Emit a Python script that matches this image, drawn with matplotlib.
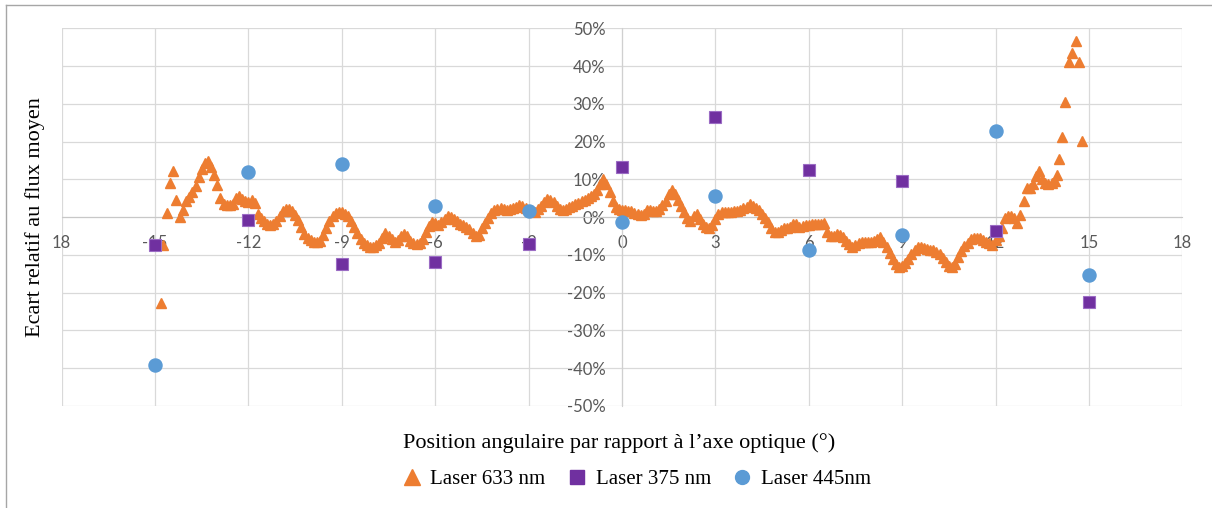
import numpy as np
import matplotlib.pyplot as plt
from matplotlib.lines import Line2D

plt.rcParams['axes.unicode_minus'] = False

# Laser 633 nm : points isolés au bord gauche, zone dense (pas 0.1°), points isolés au bord droit
x633_left = [-14.82, -14.73, -14.63, -14.52, -14.43, -14.33]
y633_left = [-22.7, -7.4, 1.0, 9.1, 12.3, 4.5]
x633_mid = np.round(np.arange(-14.2, 13.95, 0.1), 1)
y633_mid = [
    0.0, 2.0, 4.3, 5.4, 6.6, 8.2, 10.5, 12.8, 14.4, 14.8,
    13.2, 11.1, 8.6, 5.0, 3.4, 3.2, 3.3, 3.6, 5.0, 5.6,
    4.8, 4.2, 4.0, 4.5, 3.8, 0.8, -0.2, -0.9, -1.9, -2.2,
    -1.7, -0.9, 0.2, 1.7, 2.2, 2.2, 1.7, 0.5, -0.8, -2.6,
    -4.5, -5.4, -6.1, -6.5, -6.6, -6.4, -4.8, -2.8, -1.1, 0.2,
    1.0, 1.4, 1.4, 0.9, 0.3, -1.0, -2.6, -4.2, -5.9, -6.8,
    -7.4, -7.8, -7.9, -7.5, -6.8, -5.5, -4.3, -5.0, -5.9, -6.5,
    -6.0, -5.0, -4.4, -5.0, -6.2, -6.8, -7.0, -6.8, -5.8, -3.8,
    -2.4, -1.3, -1.5, -2.1, -1.4, -0.5, 0.4, 0.1, -0.5, -1.1,
    -1.7, -2.2, -2.6, -3.2, -4.1, -5.0, -4.6, -2.9, -1.5, -0.1,
    1.2, 2.0, 2.2, 2.3, 2.1, 1.9, 2.1, 2.3, 2.8, 3.2,
    2.9, 2.4, 1.9, 1.5, 1.4, 2.2, 3.0, 4.0, 4.8, 4.6,
    4.0, 2.9, 2.1, 1.9, 2.2, 2.6, 3.0, 3.4, 3.8, 4.2,
    4.6, 5.1, 5.5, 6.0, 7.2, 8.7, 10.0, 8.8, 6.6, 4.2,
    2.8, 2.2, 2.0, 1.9, 1.7, 1.5, 1.2, 0.9, 0.6, 0.9,
    2.0, 2.0, 1.5, 1.6, 2.2, 3.2, 4.3, 6.2, 7.2, 6.0,
    4.6, 3.0, 1.4, -0.1, -1.0, 0.2, 0.8, -0.6, -1.8, -2.7,
    -3.0, -2.2, -0.6, 0.8, 1.4, 1.4, 1.3, 1.4, 1.5, 1.7,
    1.9, 2.3, 2.8, 3.5, 3.0, 2.4, 1.8, 0.9, -0.1, -1.2,
    -3.0, -4.0, -3.9, -3.4, -3.0, -2.8, -2.5, -1.9, -1.9, -2.5,
    -2.4, -2.1, -2.0, -1.8, -1.7, -1.7, -1.7, -1.6, -3.8, -5.0,
    -5.1, -4.5, -4.6, -5.2, -6.2, -7.2, -7.9, -7.5, -6.8, -6.5,
    -6.5, -6.6, -6.5, -6.3, -5.8, -5.3, -6.6, -7.9, -9.4, -11.0,
    -12.5, -13.2, -13.0, -12.2, -11.0, -9.7, -8.8, -8.0, -8.0, -8.3,
    -8.5, -8.6, -8.8, -9.2, -9.8, -10.7, -11.8, -13.0, -13.2, -12.3,
    -10.5, -8.9, -7.6, -6.8, -5.8, -5.6, -5.5, -5.6, -6.0, -6.6,
    -6.8, -7.3, -6.0, -5.0, -3.0, -0.3, 0.4, 0.4, -0.3, -1.5,
    0.5, 4.2, 7.6, 7.6, 8.8, 10.8, 12.3, 10.0, 9.0, 8.9,
    9.0, 9.6,
]
x633_right = [13.96, 14.05, 14.14, 14.23, 14.37, 14.47, 14.57, 14.68, 14.77]
y633_right = [11.1, 15.5, 21.1, 30.5, 41.1, 43.4, 46.7, 41.0, 20.2]

# Laser 375 nm et 445 nm : un point tous les 3°
x_pts = [-15, -12, -9, -6, -3, 0, 3, 6, 9, 12, 15]
y375 = [-7.4, -0.8, -12.3, -11.8, -7.0, 13.2, 26.4, 12.4, 9.5, -3.6, -22.4]
y445 = [-39.2, 12.0, 14.0, 3.0, 1.7, -1.2, 5.7, -8.6, -4.8, 22.8, -15.4]

x_ticks = [-18, -15, -12, -9, -6, -3, 0, 3, 6, 9, 12, 15, 18]
x_ticklabels = ['18', '-15', '-12', '-9', '-6', '-3', '0', '3', '6', '9', '12', '15', '18']
y_ticks = [-50, -40, -30, -20, -10, 0, 10, 20, 30, 40, 50]

c633 = '#ED7D31'
c375 = '#7030A0'
c445 = '#5B9BD5'
serif = 'Liberation Serif'

x633 = list(x633_left) + list(x633_mid) + list(x633_right)
y633 = list(y633_left) + list(y633_mid) + list(y633_right)

fig = plt.figure(figsize=(12.12, 5.08), dpi=100)
ax = fig.add_axes([61.7 / 1212, 1 - 406 / 508, (1182.3 - 61.7) / 1212, (406 - 28.3) / 508])

ax.plot(x633, y633, ls='none', marker='^', ms=7, color=c633, mec=c633, zorder=3)
ax.plot(x_pts, y375, ls='none', marker='s', ms=8.6, color=c375, mec='#9b6cc4', mew=0.8, zorder=4)
ax.plot(x_pts, y445, ls='none', marker='o', ms=9.4, color=c445, mec=c445, zorder=5)

ax.set_xlim(-18, 18)
ax.set_ylim(-50, 50)
ax.set_xticks(x_ticks)
ax.set_xticklabels(x_ticklabels)
ax.set_yticks(y_ticks)
ax.set_yticklabels([f'{v}%' for v in y_ticks])

ax.grid(True, color='#d9d9d9', lw=0.9)
for s in ['top', 'right']:
    ax.spines[s].set_visible(False)
ax.spines['left'].set_position(('data', 0))
ax.spines['bottom'].set_position(('data', 0))
ax.spines['left'].set_color('#d0d0d0')
ax.spines['bottom'].set_color('#c8c8c8')
ax.tick_params(axis='both', length=0, labelcolor='#595959', labelsize=12)
ax.tick_params(axis='x', pad=13)
ax.tick_params(axis='y', pad=12)
for lab in ax.get_xticklabels() + ax.get_yticklabels():
    lab.set_family('Lato')

fig.text(35 / 1212, 1 - 217 / 508, 'Ecart relatif au flux moyen', rotation=90,
         ha='center', va='center', family=serif, fontsize=16)
fig.text(619 / 1212, 1 - 443 / 508, 'Position angulaire par rapport à l\u2019axe optique (°)',
         ha='center', va='center', family=serif, fontsize=16)

handles = [
    Line2D([], [], ls='none', marker='^', ms=11, color=c633),
    Line2D([], [], ls='none', marker='s', ms=10, color=c375),
    Line2D([], [], ls='none', marker='o', ms=10, color=c445),
]
fig.legend(handles, ['Laser 633 nm', 'Laser 375 nm', 'Laser 445nm'], loc='center',
           bbox_to_anchor=(636 / 1212, 1 - 479 / 508), ncol=3, frameon=False,
           prop={'family': serif, 'size': 15}, handlelength=1.0, handletextpad=0.4,
           columnspacing=1.0)

# cadre extérieur (gauche et haut)
fig.add_artist(Line2D([6 / 1212, 6 / 1212], [0, 1 - 5 / 508], color='#a6a6a6', lw=1))
fig.add_artist(Line2D([6 / 1212, 1], [1 - 5 / 508, 1 - 5 / 508], color='#a6a6a6', lw=1))

fig.savefig('out.png', dpi=100)
